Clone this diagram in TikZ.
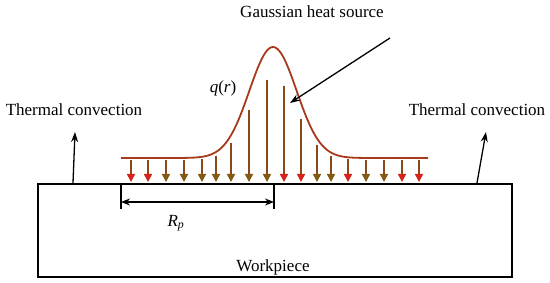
\documentclass[tikz,border=0pt]{standalone}
\usepackage{fontspec}
\setmainfont{Liberation Serif}
\usepackage{xcolor}
\usepackage{tikz}
\usetikzlibrary{arrows.meta, positioning, calc}

\definecolor{curvebrown}{RGB}{168,58,28}
\definecolor{shaftbrown}{RGB}{140,72,22}
\definecolor{tipred}{RGB}{212,36,26}
\definecolor{tipolive}{RGB}{130,90,20}

\begin{document}
\begin{tikzpicture}[
    x=1pt, y=-1pt,
    lbl/.style={font=\fontsize{17}{20}\selectfont, inner sep=1pt},
    arr/.style={-{Stealth[length=10pt, width=7pt]}, line width=1.3pt},
    dim/.style={{Stealth[length=9pt, width=7pt]}-{Stealth[length=9pt, width=7pt]}, line width=1.2pt},
    flux/.style={line width=1.5pt, shaftbrown},
]
\useasboundingbox (0,0) rectangle (550,283);

% workpiece
\node[draw, line width=2.4pt, minimum width=474pt, minimum height=93pt, anchor=north west, inner sep=0pt] (workpiece) at (37,183) {};
\node[lbl] (wplabel) at (273,267) {Workpiece};

% gaussian profile
\draw[curvebrown, line width=1.8pt] plot[domain=121:428, samples=160] (\x, {158-111*exp(-((\x-273)/33.38)^2)});
\foreach \xx/\tc in {131/tipred, 148/tipred, 166/tipolive, 184/tipolive, 202/tipolive, 216/tipolive,
                     231/tipolive, 249/tipolive, 267/tipolive, 284/tipred, 301/tipred, 317/tipolive,
                     331/tipolive, 348/tipred, 366/tipolive, 384/tipolive, 402/tipred, 419/tipred} {
    \draw[flux, -{Triangle[length=8pt, width=8pt, color=\tc]}]
        (\xx, {160-83*exp(-((\xx-273)/33.38)^2)}) -- (\xx,182);
}

% labels
\node[lbl] (source) at (312,12) {Gaussian heat source};
\node[lbl] (qr) at (223,88) {\textit{q}(\textit{r})};
\node[lbl] (convl) at (74,110) {Thermal convection};
\node[lbl] (convr) at (477,110) {Thermal convection};
\node[lbl] (rp) at (176,223) {\textit{R}\textsubscript{\textit{p}}};

\coordinate (srcstart) at (390,38);
\coordinate (srcend) at (290,103);
\coordinate (convlbase) at (73,183);
\coordinate (convltop) at (75,132);
\coordinate (convrbase) at (477,183);
\coordinate (convrtop) at (486,132);

\draw[arr] (srcstart) -- (srcend);
\draw[arr] (convlbase) -- (convltop);
\draw[arr] (convrbase) -- (convrtop);

% radius
\coordinate (rpl) at (121,183);
\coordinate (rpr) at (274,183);
\draw[line width=1.2pt] (rpl) -- ++(0,26);
\draw[line width=1.2pt] (rpr) -- ++(0,26);
\draw[dim] ($(rpl)+(0,19)$) -- ($(rpr)+(0,19)$);

\end{tikzpicture}
\end{document}
